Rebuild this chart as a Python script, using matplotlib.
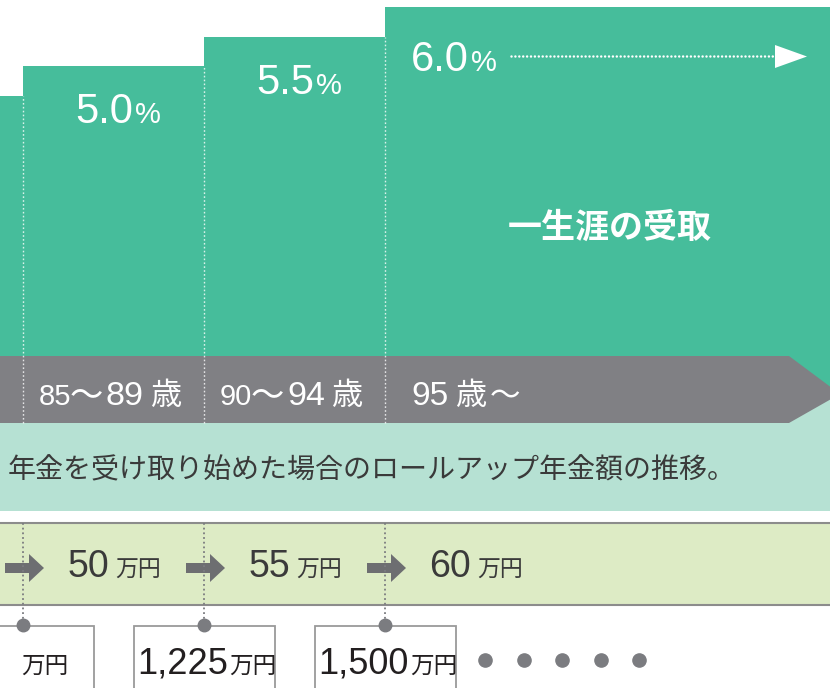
import numpy as np
import matplotlib
matplotlib.use("Agg")
import matplotlib.pyplot as plt
from matplotlib.patches import Polygon, Rectangle, FancyArrow
from matplotlib.transforms import blended_transform_factory

# ---------------- data ----------------
age_from = [None, "85", "90", "95"]          # band start age (index 0 cut off at left)
age_to = [None, "89", "94", None]            # band end age (None = open ended)
rates = [4.5, 5.0, 5.5, 6.0]                 # roll-up rate (%) per age band
annual = [None, 50, 55, 60]                  # annual pension (万円) per age band
totals = [None, 1225, 1500]                  # cumulative amount (万円) at band boundaries 1..3
lifetime_label = "一生涯の受取"
caption = "年金を受け取り始めた場合のロールアップ年金額の推移。"
unit_pct = "%"
unit_man = "万円"
age_unit = "歳"
tilde = "〜"

# ---------------- style ----------------
GREEN = "#46BD9B"
GREY_BAND = "#808084"
MINT = "#B6E1D3"
LIGHT_GREEN = "#DDEBC5"
BORDER = "#8C8C8C"
ARROW_GREY = "#6D6E71"
DOT_GREY = "#7B7C80"
TEXT_DARK = "#3A3A3A"
BOX_TEXT = "#231F20"
NUM = ["Liberation Sans", "Noto Sans CJK JP"]
CJK = ["Noto Sans CJK JP", "DejaVu Sans"]
plt.rcParams["font.family"] = NUM

W, H = 830, 688
COL_PX = 181          # width of one age band in pixels
FIRST_EDGE_PX = 23    # pixel x of boundary 1
BAND_BOTTOM = 423     # bottom of grey age band

fig = plt.figure(figsize=(W / 100, H / 100), dpi=100)
fig.patch.set_facecolor("white")

# overlay in pixel coordinates
ax_ov = fig.add_axes([0, 0, 1, 1], zorder=2)
ax_ov.set_xlim(0, W)
ax_ov.set_ylim(H, 0)
ax_ov.axis("off")
ax_ov.patch.set_alpha(0)

# bar axes: x = band index, y = rate (%)
ax_bars = fig.add_axes([0, (H - BAND_BOTTOM) / H, 1, BAND_BOTTOM / H], zorder=1)
ylo, yhi = -1.05, 6.12
ax_bars.set_ylim(ylo, yhi)
ax_bars.set_xlim(1 - FIRST_EDGE_PX / COL_PX, 1 + (W - FIRST_EDGE_PX) / COL_PX)
ax_bars.axis("off")

idx = np.arange(len(rates))
widths = [1.0] * (len(rates) - 1) + [4.0]
ax_bars.bar(idx, [r - ylo for r in rates], bottom=ylo, width=widths,
            align="edge", color=GREEN, linewidth=0)

tb = ax_bars.transData
bl = blended_transform_factory(ax_bars.transData, ax_ov.transData)

# mint caption band (behind the grey arrow band)
ax_ov.add_patch(Rectangle((0, 394), W, 511 - 394, facecolor=MINT, edgecolor="none", zorder=1))
ax_ov.text(8, 470, caption, ha="left", va="center", fontsize=20.2,
           color=TEXT_DARK, family=CJK, zorder=5)

# grey age band with arrow head
ax_ov.add_patch(Polygon([(0, 356), (789, 356), (840, 394), (789, BAND_BOTTOM), (0, BAND_BOTTOM)],
                        closed=True, facecolor=GREY_BAND, edgecolor="none", zorder=2))

# white dotted boundary lines through bars and age band
for i in range(1, len(rates)):
    top = min(rates[i - 1], rates[i])
    ax_ov.plot([i, i], [ylo, top], transform=tb, color="white", lw=1.0,
               ls=(0, (1.2, 1.6)), alpha=0.8, zorder=3, clip_on=False)

# rate labels
last = len(rates) - 1
for i in range(1, len(rates)):
    split = 111 if i < last else 85
    drop = -57 if i < last else -64
    ax_ov.annotate(f"{rates[i]:.1f}", xy=(i, rates[i]), xycoords=tb,
                   xytext=(split - 1, drop), textcoords="offset pixels",
                   ha="right", va="baseline", fontsize=30, color="white", zorder=5)
    ax_ov.annotate(unit_pct, xy=(i, rates[i]), xycoords=tb,
                   xytext=(split + 1, drop), textcoords="offset pixels",
                   ha="left", va="baseline", fontsize=21, color="white", zorder=5)

# dotted arrow after last rate label
ax_ov.plot([511, 773], [56, 56], color="white", lw=1.8, ls=(0, (0.01, 1.55)),
           dash_capstyle="round", zorder=5)
ax_ov.add_patch(Polygon([(775, 45), (807, 56.5), (775, 68)], closed=True,
                        facecolor="white", edgecolor="none", zorder=5))

# lifetime label
ax_ov.text(610, 227, lifetime_label, ha="center", va="center", fontsize=24.5,
           fontweight="bold", color="white", family=CJK, zorder=5)

# age labels in grey band
for i in range(1, len(rates)):
    if age_to[i] is not None:
        pieces = [(age_from[i], 21, 16), (tilde, 24, 47), (age_to[i], 24.5, 83), (age_unit, 22.5, 127)]
    else:
        pieces = [(age_from[i], 24, 26), (age_unit, 22.5, 70), (tilde, 22, 105)]
    for txt, fs, off in pieces:
        ax_ov.annotate(txt, xy=(i, 405), xycoords=bl, xytext=(off, 0),
                       textcoords="offset pixels", ha="left", va="baseline",
                       fontsize=fs, color="white", zorder=5)

# light green annual amount band
ax_ov.add_patch(Rectangle((0, 523), W, 605 - 523, facecolor=LIGHT_GREEN, edgecolor="none", zorder=1))
ax_ov.plot([0, W], [523, 523], color=BORDER, lw=1.5, zorder=2)
ax_ov.plot([0, W], [605, 605], color=BORDER, lw=1.5, zorder=2)

for i in range(1, len(rates)):
    ax_ov.add_patch(FancyArrow(i - 18 / COL_PX, 568, 39 / COL_PX, 0, width=10, head_width=28,
                               head_length=15 / COL_PX, length_includes_head=True,
                               transform=bl, facecolor=ARROW_GREY, edgecolor="none", zorder=3))
    if annual[i] is not None:
        ax_ov.annotate(str(annual[i]), xy=(i, 577), xycoords=bl, xytext=(86, 0),
                       textcoords="offset pixels", ha="right", va="baseline",
                       fontsize=27, color=TEXT_DARK, zorder=5)
        ax_ov.annotate(unit_man, xy=(i, 577), xycoords=bl, xytext=(92, 0),
                       textcoords="offset pixels", ha="left", va="baseline",
                       fontsize=16.5, color=TEXT_DARK, family=CJK, zorder=5)

# grey dotted connectors, circles and total boxes
for k, t in enumerate(totals):
    i = k + 1
    ax_ov.plot([i, i], [523, 625], transform=bl, color=DOT_GREY, lw=1.3,
               ls=(0, (1, 1.6)), zorder=3)
    ax_ov.add_patch(Rectangle((i - 70 / COL_PX, 626), 141 / COL_PX, 80, transform=bl,
                              facecolor="white", edgecolor="#9A9A9A", lw=1.3, zorder=4))
    ax_ov.plot([i], [625], "o", ms=9, color=DOT_GREY, transform=bl, zorder=6)
    if t is not None:
        ax_ov.annotate(f"{t:,}", xy=(i, 673), xycoords=bl, xytext=(24, 0),
                       textcoords="offset pixels", ha="right", va="baseline",
                       fontsize=26, color=BOX_TEXT, zorder=5)
        ax_ov.annotate(unit_man, xy=(i, 673), xycoords=bl, xytext=(25, 0),
                       textcoords="offset pixels", ha="left", va="baseline",
                       fontsize=17, color=BOX_TEXT, family=CJK, zorder=5)
    else:
        ax_ov.annotate(unit_man, xy=(i, 673), xycoords=bl, xytext=(-2, 0),
                       textcoords="offset pixels", ha="left", va="baseline",
                       fontsize=17, color=BOX_TEXT, family=CJK, zorder=5)

# trailing ellipsis dots
dot_x = 485 + 38.6 * np.arange(5)
ax_ov.plot(dot_x, np.full(5, 660), "o", ms=9.5, color=DOT_GREY, linestyle="none", zorder=5)

fig.savefig("out.png", dpi=100, facecolor="white")
